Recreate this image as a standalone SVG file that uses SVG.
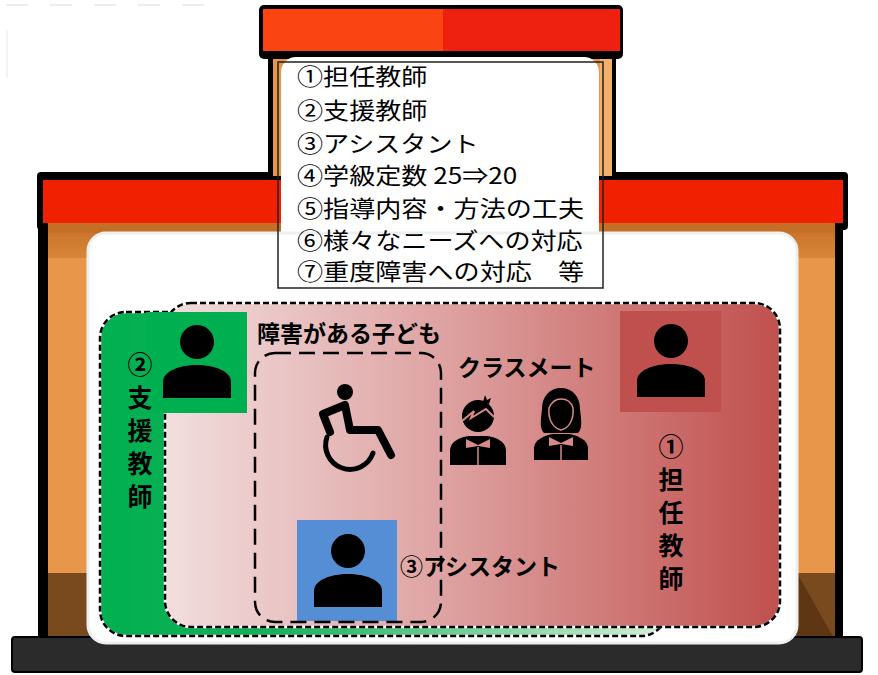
<svg xmlns="http://www.w3.org/2000/svg" width="878" height="675" viewBox="0 0 878 675">
  <defs>
    <linearGradient id="gGreen" x1="0" y1="0" x2="1" y2="0">
      <stop offset="0" stop-color="#00B050"/>
      <stop offset="0.3" stop-color="#14B158"/>
      <stop offset="1" stop-color="#D6EFD6"/>
    </linearGradient>
    <linearGradient id="gRed" x1="0" y1="0" x2="1" y2="0">
      <stop offset="0" stop-color="#F2DEDE"/>
      <stop offset="0.45" stop-color="#DEA3A2"/>
      <stop offset="1" stop-color="#C0504D"/>
    </linearGradient>
    <linearGradient id="gBand" x1="0" y1="0" x2="0" y2="1">
      <stop offset="0" stop-color="#C46E26"/>
      <stop offset="1" stop-color="#D98638"/>
    </linearGradient>
    <g id="person">
      <circle cx="0" cy="0" r="17"/>
      <path d="M-34 56 V40 C-34 29 -17 23 0 23 C17 23 34 29 34 40 V56 Z"/>
    </g>
  </defs>
  <style>
    .txt { font-family: "Noto Sans CJK JP", "Noto Sans", sans-serif; fill: #000; }
    .list { font-size: 22.5px; }
    .lbl { font-size: 23px; font-weight: 700; }
    .vlbl { font-size: 25px; font-weight: 700; writing-mode: vertical-rl; letter-spacing: 8px; }
    .dashU { fill: none; stroke: #fff; stroke-width: 2.5; }
    .dash { fill: none; stroke: #000; stroke-width: 2.5; stroke-dasharray: 6 3; }
    .longdash { fill: none; stroke: #000; stroke-width: 2.5; stroke-dasharray: 16 8; }
  </style>

  <rect width="878" height="675" fill="#fff"/>
  <!-- faint marks in the top-left corner -->
  <line x1="6" y1="5" x2="210" y2="5" stroke="#EDEDED" stroke-width="2" stroke-dasharray="22 22"/>
  <line x1="7" y1="30" x2="7" y2="78" stroke="#F2F2F2" stroke-width="2"/>

  <!-- building body -->
  <g id="building">
    <rect x="38" y="222" width="805" height="420" fill="#000"/>
    <rect x="48" y="222" width="787" height="420" fill="#E8974A"/>
    <rect x="48" y="222" width="787" height="36" fill="url(#gBand)"/>
    <rect x="48" y="573" width="787" height="69" fill="#784A1E"/>
    <polygon points="797,573 835,640 797,640" fill="#5E3614"/>
    <!-- main roof -->
    <rect x="37" y="172" width="811" height="58" rx="4" fill="#000"/>
    <rect x="43" y="180" width="800" height="43" fill="#F02000"/>
    <rect x="48" y="223" width="787" height="10" fill="#C46E26"/>
    <!-- tower -->
    <rect x="268" y="52" width="348" height="126" fill="#000"/>
    <rect x="273" y="52" width="339" height="124" fill="#E8974A"/>
    <rect x="600" y="52" width="12" height="124" fill="#F4B06A"/>
    <rect x="259" y="5" width="364" height="54" rx="5" fill="#000"/>
    <rect x="263" y="9" width="180" height="42" fill="#FA4411"/>
    <rect x="443" y="9" width="177" height="42" fill="#EE2010"/>
    <rect x="281" y="57" width="318" height="190" rx="15" fill="#fff"/>
    <!-- base -->
    <rect x="12" y="637" width="850" height="35" rx="3" fill="#2B2B2B" stroke="#000" stroke-width="2"/>
    <!-- interior -->
    <rect x="88" y="233" width="709" height="410" rx="18" fill="#fff" stroke="#EDF0F0" stroke-width="3"/>
  </g>

  <!-- list of measures -->
  <g id="measures">
    <rect x="278" y="62" width="325" height="226" fill="none" stroke="#222" stroke-width="1.5"/>
    <g transform="translate(297 0) scale(1.16 1)">
      <text class="txt list" x="0" y="85">①担任教師</text>
      <text class="txt list" x="0" y="119">②支援教師</text>
      <text class="txt list" x="0" y="152">③アシスタント</text>
      <text class="txt list" x="0" y="184">④学級定数 25⇒20</text>
      <text class="txt list" x="0" y="217">⑤指導内容・方法の工夫</text>
      <text class="txt list" x="0" y="249">⑥様々なニーズへの対応</text>
      <text class="txt list" x="0" y="280">⑦重度障害への対応　等</text>
    </g>
  </g>

  <!-- support teacher area -->
  <g id="support-area">
    <rect x="100" y="312" width="567" height="324" rx="26" fill="url(#gGreen)"/>
    <rect class="dashU" x="100" y="312" width="567" height="324" rx="26"/>
    <rect class="dash" x="100" y="312" width="567" height="324" rx="26"/>
  </g>

  <!-- homeroom teacher area -->
  <g id="class-area">
    <rect x="165" y="303" width="615" height="324" rx="26" fill="url(#gRed)"/>
    <rect class="dashU" x="165" y="303" width="615" height="324" rx="26"/>
    <rect class="dash" x="165" y="303" width="615" height="324" rx="26"/>
  </g>

  <g id="support-teacher">
    <rect x="146" y="312" width="101" height="101" fill="#00B050"/>
    <use href="#person" x="197" y="342"/>
    <text class="txt vlbl" x="140" y="352">②支援教師</text>
  </g>

  <g id="homeroom-teacher">
    <rect x="620" y="311" width="101" height="101" fill="#C0504D"/>
    <use href="#person" x="671" y="341"/>
    <text class="txt vlbl" x="671" y="434">①担任教師</text>
  </g>

  <g id="child">
    <text class="txt lbl" x="257" y="342">障害がある子ども</text>
    <circle cx="345" cy="392" r="8"/>
    <path d="M330 432 L323 414 L345 405 L350 430 L378 430 L391 455" fill="none" stroke="#000" stroke-width="8" stroke-linecap="round" stroke-linejoin="round"/>
    <path d="M327 437 A24 24 0 1 0 373 453" fill="none" stroke="#000" stroke-width="5" stroke-linecap="round"/>
  </g>

  <g id="assistant">
    <rect x="297" y="520" width="100" height="101" fill="#558ED5"/>
    <use href="#person" x="348" y="551"/>
    <text class="txt lbl" x="400" y="575" font-weight="500">③アシスタント</text>
  </g>

  <g id="child-frame">
    <rect class="longdash" x="255" y="353" width="186" height="269" rx="20"/>
  </g>

  <g id="classmates">
    <text class="txt lbl" x="458" y="376">クラスメート</text>
    <!-- boy -->
    <circle cx="478" cy="416" r="16"/>
    <path d="M483 402 L485 395 L487 400 L491 398 L489 404 Z"/>
    <path d="M462 421 L474 411 L471 418 L486 409 L494 417" fill="none" stroke="#D88A88" stroke-width="2"/>
    <path d="M450 465 V451 C450 441 461 437 469 436 L487 436 C495 437 506 441 506 451 V465 Z"/>
    <path d="M466 439 L478 445 L490 439 L490 448 L478 446 L466 448 Z" fill="#D88A88"/>
    <line x1="478" y1="447" x2="478" y2="465" stroke="#D88A88" stroke-width="1.5"/>
    <!-- girl -->
    <path d="M544 433 C539 428 541 419 542 409 C542 396 550 388 561 388 C572 388 580 396 580 409 C581 419 583 428 578 433 Z"/>
    <path d="M549 408 C552 401 557 399 561 399 C566 399 571 401 573 408 C574 418 570 428 561 430 C552 428 548 418 549 408 Z" fill="none" stroke="#D88A88" stroke-width="1.5"/>
    <path d="M534 460 V448 C534 440 545 435 553 434 L569 434 C577 435 588 440 588 448 V460 Z"/>
    <path d="M549 437 L561 443 L573 437 L573 446 L561 444 L549 446 Z" fill="#D88A88"/>
    <line x1="561" y1="445" x2="561" y2="460" stroke="#D88A88" stroke-width="1.5"/>
  </g>
</svg>
